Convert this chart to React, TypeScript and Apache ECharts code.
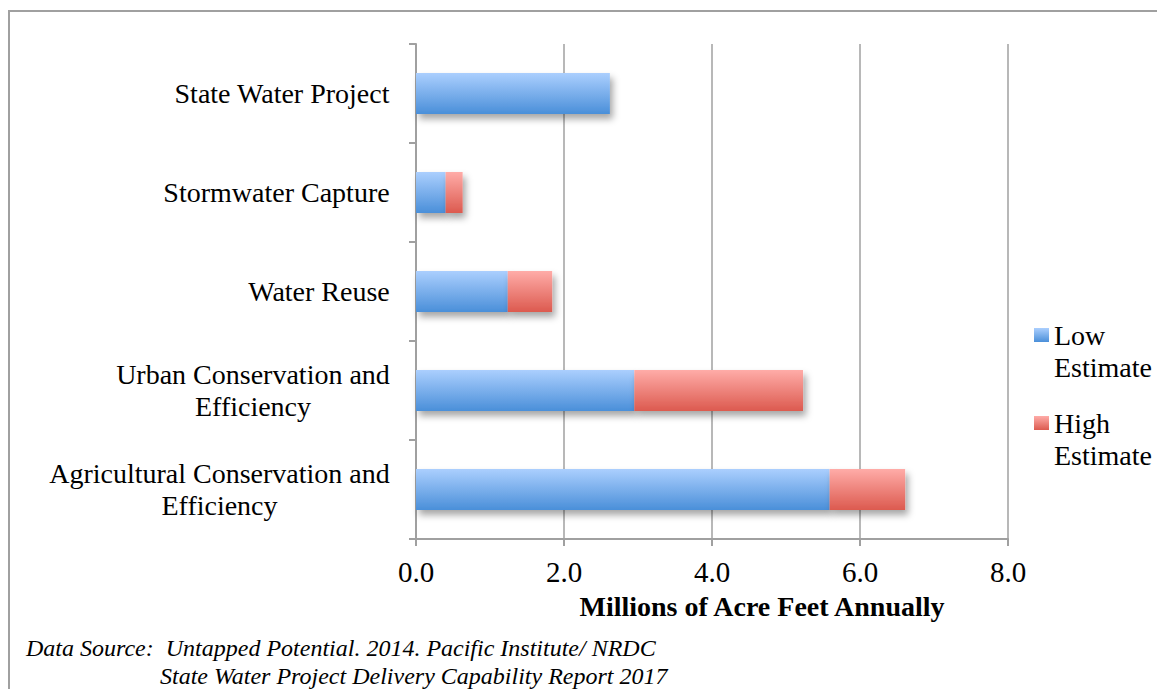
import React, { useEffect, useRef } from "react";
import * as echarts from "echarts";

const categories = [
  "State Water Project",
  "Stormwater Capture",
  "Water Reuse",
  "Urban Conservation and\nEfficiency",
  "Agricultural Conservation and\nEfficiency",
];
const lowEstimate = [2.62, 0.4, 1.24, 2.95, 5.59];
const highExtra = ["-", 0.23, 0.6, 2.28, 1.02];
const xTicks = { min: 0, max: 8, interval: 2 };
const seriesNames = ["Low Estimate", "High Estimate"];
const footnote1 = "Data Source:  Untapped Potential. 2014. Pacific Institute/ NRDC";
const footnote2 = "State Water Project Delivery Capability Report 2017";
const axisTitle = "Millions of Acre Feet Annually";

const SERIF = '"Liberation Serif", "Times New Roman", serif';
const GRAY = "#a0a0a0";

function measure(text: string, font: string) {
  const c = document.createElement("canvas");
  const ctx = c.getContext("2d")!;
  ctx.font = font;
  return ctx.measureText(text).width;
}

export default function App() {
  const ref = useRef<HTMLDivElement>(null);
  useEffect(() => {
    if (!ref.current) return;
    const chart = echarts.init(ref.current, null, { renderer: "svg" });
    const labelFont = `28px ${SERIF}`;
    const rich: Record<string, any> = {};
    categories.forEach((c, i) => {
      const w = Math.max(...c.split("\n").map((l) => measure(l, labelFont)));
      rich["c" + i] = {
        width: Math.ceil(w),
        align: "center",
        fontSize: 28,
        fontFamily: SERIF,
        lineHeight: 32,
        color: "#000",
      };
    });
    const blue = new echarts.graphic.LinearGradient(0, 0, 0, 1, [
      { offset: 0, color: "#abcffe" },
      { offset: 1, color: "#4a8fd9" },
    ]);
    const red = new echarts.graphic.LinearGradient(0, 0, 0, 1, [
      { offset: 0, color: "#ffaca8" },
      { offset: 1, color: "#dc5a4f" },
    ]);
    const shadow = {
      shadowColor: "rgba(0,0,0,0.35)",
      shadowBlur: 7,
      shadowOffsetX: 3,
      shadowOffsetY: 5,
    };
    chart.setOption({
      animation: false,
      backgroundColor: "#fff",
      grid: { left: 416, top: 44, width: 592, height: 495 },
      legend: {
        orient: "vertical",
        left: 1034,
        top: 287,
        padding: 0,
        itemWidth: 15,
        itemHeight: 14,
        itemGap: -8,
        icon: "rect",
        formatter: (n: string) => "\n" + n.replace(" ", "\n"),
        textStyle: {
          fontFamily: SERIF,
          fontSize: 28,
          lineHeight: 32,
          color: "#000",
        },
        data: seriesNames,
      },
      xAxis: {
        type: "value",
        min: xTicks.min,
        max: xTicks.max,
        interval: xTicks.interval,
        axisLine: { show: true, lineStyle: { color: GRAY, width: 2 } },
        axisTick: { show: true, length: 7, lineStyle: { color: GRAY, width: 2 } },
        splitLine: { show: true, lineStyle: { color: GRAY, width: 1.5 } },
        axisLabel: {
          formatter: (v: number) => v.toFixed(1),
          fontFamily: SERIF,
          fontSize: 29,
          color: "#000",
          margin: 18,
        },
        name: axisTitle,
        nameLocation: "middle",
        nameGap: 53,
        nameTextStyle: {
          fontFamily: SERIF,
          fontWeight: "bold",
          fontSize: 28,
          color: "#000",
          padding: [0, 0, 0, 100],
        },
      },
      yAxis: {
        type: "category",
        inverse: true,
        data: categories,
        axisLine: { show: true, lineStyle: { color: GRAY, width: 2 } },
        axisTick: { show: true, length: 7, lineStyle: { color: GRAY, width: 2 } },
        axisLabel: {
          margin: 26,
          formatter: (v: string, i: number) =>
            v
              .split("\n")
              .map((l) => `{c${i}|${l}}`)
              .join("\n"),
          rich,
        },
      },
      series: [
        {
          name: seriesNames[0],
          type: "bar",
          stack: "total",
          barWidth: 41,
          data: lowEstimate,
          itemStyle: { color: blue, ...shadow },
        },
        {
          name: seriesNames[1],
          type: "bar",
          stack: "total",
          barWidth: 41,
          data: highExtra,
          itemStyle: { color: red, ...shadow },
        },
      ],
      graphic: [
        {
          type: "polyline",
          shape: { points: [[9, 689], [9, 11], [1157, 11]] },
          style: { stroke: GRAY, lineWidth: 2, fill: "none" },
        },
        {
          type: "text",
          left: 26,
          top: 636,
          style: {
            text: footnote1,
            font: `italic 24px ${SERIF}`,
            fill: "#000",
          },
        },
        {
          type: "text",
          left: 160,
          top: 664,
          style: {
            text: footnote2,
            font: `italic 24px ${SERIF}`,
            fill: "#000",
          },
        },
      ],
    });
    return () => chart.dispose();
  }, []);
  return (
    <div
      ref={ref}
      style={{ position: "fixed", left: 0, top: 0, width: 1157, height: 689 }}
    />
  );
}
